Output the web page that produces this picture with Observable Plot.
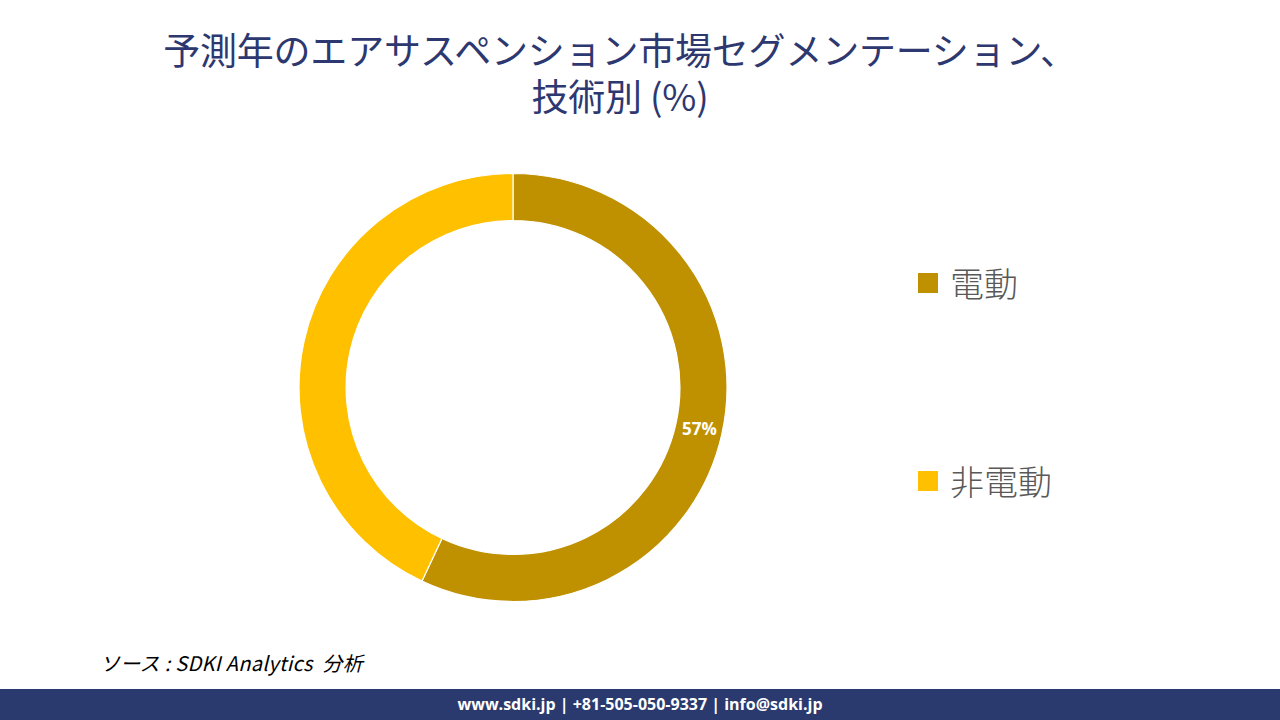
<!DOCTYPE html>
<html><head><meta charset="utf-8">
<script src="https://cdn.jsdelivr.net/npm/d3@7"></script>
<script src="https://cdn.jsdelivr.net/npm/@observablehq/plot@0.6"></script>
<style>
html,body{margin:0;padding:0;background:#fff;width:1280px;height:720px;overflow:hidden;position:relative;font-family:"Noto Sans CJK JP","Noto Sans",sans-serif;}
.title{position:absolute;left:0;width:1240px;text-align:center;color:#2E3870;font-size:37px;line-height:44px;height:44px;font-family:"Noto Sans CJK JP",sans-serif;font-weight:400;letter-spacing:-0.2px;white-space:nowrap;}
#chart{position:absolute;left:0;top:0;}
.leg{position:absolute;display:flex;align-items:center;color:#595959;font-size:34px;font-weight:300;font-family:"Noto Sans CJK JP",sans-serif;}
.leg .sw{width:20px;height:20px;margin-right:12px;}
#source{position:absolute;left:100px;top:648px;font-size:20px;font-style:italic;color:#000;font-family:"Noto Sans CJK JP",sans-serif;white-space:pre;letter-spacing:0.3px;}
#footer{position:absolute;left:0;top:689px;width:1280px;height:31px;background:#2B3A6E;color:#fff;text-align:center;font:bold 16px/31px "Open Sans","Noto Sans",sans-serif;}
</style></head>
<body>
<div id="chart"></div>
<div class="title" style="top:27px">予測年のエアサスペンション市場セグメンテーション、</div>
<div class="title" style="top:73px">技術別 (%)</div>
<div id="legend"></div>
<div id="source">ソース : SDKI Analytics  分析</div>
<div id="footer">www.sdki.jp | +81-505-050-9337 | info@sdki.jp</div>
<script>
const categories = ["電動", "非電動"];
const shares = [57, 43];
const colors = ["#BF9000", "#FFC000"];
const labels = ["57%", ""];

const data = categories.map((c, i) => ({category: c, value: shares[i], label: labels[i]}));
const pie = d3.pie().sort(null).value(d => d.value)(data);
const innerFrac = 0.78;
const midFrac = (1 + innerFrac) / 2;
const labelData = pie.filter(p => p.data.label).map(p => {
  const a = (p.startAngle + p.endAngle) / 2;
  return {x: midFrac * Math.sin(a), y: midFrac * Math.cos(a), label: p.data.label};
});

const cx = 513, cy = 387.5, R = 214;

const donut = (index, scales, values, dimensions, context) => {
  const x = scales.x, y = scales.y;
  const r = (x(1) - x(-1)) / 2;
  const arc = d3.arc().innerRadius(r * innerFrac).outerRadius(r);
  const g = d3.create("svg:g").attr("transform", `translate(${x(0)},${y(0)})`);
  g.selectAll("path").data(pie).join("path")
    .attr("d", arc)
    .attr("fill", d => colors[categories.indexOf(d.data.category)])
    .attr("stroke", "#fff").attr("stroke-width", 1.2);
  return g.node();
};

const plot = Plot.plot({
  width: 1280, height: 720,
  margin: 0,
  x: {domain: [-1, 1], range: [cx - R, cx + R], axis: null},
  y: {domain: [-1, 1], range: [cy + R, cy - R], axis: null},
  marks: [
    donut,
    Plot.text(labelData, {x: "x", y: "y", text: "label", fill: "#fff", fontSize: 17, fontWeight: "bold", fontFamily: "Open Sans, Noto Sans, sans-serif"})
  ]
});
document.getElementById("chart").appendChild(plot);

const legPos = [{top: 258}, {top: 456}];
const leg = document.getElementById("legend");
categories.forEach((c, i) => {
  const d = document.createElement("div");
  d.className = "leg";
  d.style.left = "918px";
  d.style.top = legPos[i].top + "px";
  d.innerHTML = `<span class="sw" style="background:${colors[i]}"></span><span>${c}</span>`;
  leg.appendChild(d);
});
</script>
</body></html>
